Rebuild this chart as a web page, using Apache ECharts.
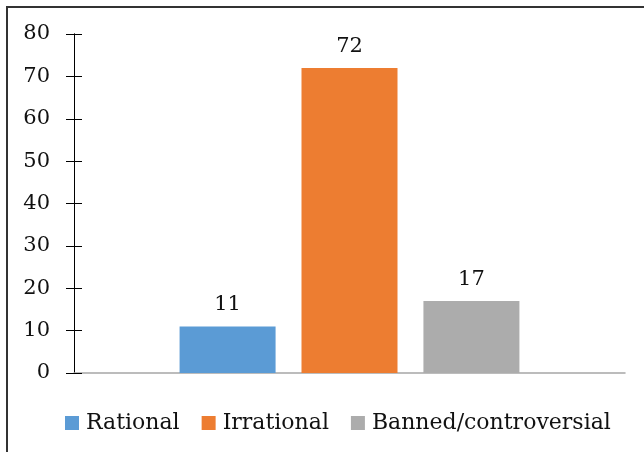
<!DOCTYPE html>
<html>
<head>
<meta charset="utf-8">
<script src="https://cdn.jsdelivr.net/npm/echarts@6/dist/echarts.min.js"></script>
<style>
  html, body { margin: 0; padding: 0; background: #fff; }
  #main { width: 644px; height: 452px; }
</style>
</head>
<body>
<div id="main"></div>
<script>
// data
var seriesNames = ["Rational", "Irrational", "Banned/controversial"];
var seriesValues = [11, 72, 17];
var seriesColors = ["#5b9bd5", "#ed7d31", "#acacac"];
var categories = [""];

var font = "DejaVu Serif";

var series = seriesNames.map(function(name, i) {
  return {
    name: name,
    type: "bar",
    barWidth: 96,
    barGap: "27%",
    yAxisIndex: 0,
    itemStyle: { color: seriesColors[i] },
    label: {
      show: true,
      position: "top",
      distance: 11,
      color: "#111",
      fontFamily: font,
      fontSize: 21
    },
    data: [seriesValues[i]]
  };
});

var myChart = echarts.init(document.getElementById("main"));
var option = {
  animation: false,
  graphic: [
    {
      type: "rect",
      shape: { x: 7, y: 7, width: 700, height: 500 },
      style: { fill: "none", stroke: "#333", lineWidth: 2 }
    }
  ],
  legend: {
    data: seriesNames,
    bottom: 13,
    left: 60,
    itemWidth: 14,
    itemHeight: 14,
    itemGap: 22,
    icon: "rect",
    textStyle: { color: "#111", fontFamily: font, fontSize: 22, padding: [0, 0, 0, 2] }
  },
  grid: {
    left: 74,
    right: 19,
    top: 34,
    bottom: 79
  },
  xAxis: {
    type: "category",
    data: categories,
    axisLine: { lineStyle: { color: "#a6a6a6", width: 1.5 } },
    axisTick: { show: false },
    axisLabel: { show: false }
  },
  yAxis: [
    {
      type: "value",
      min: 0,
      max: 80,
      interval: 10,
      axisLine: { show: true, lineStyle: { color: "#000", width: 1 } },
      axisTick: { show: true, length: 8, lineStyle: { color: "#000" } },
      axisLabel: { color: "#111", fontFamily: font, fontSize: 21, margin: 24 },
      splitLine: { show: false }
    },
    {
      type: "value",
      position: "left",
      min: 0,
      max: 80,
      interval: 10,
      axisLine: { show: true, lineStyle: { color: "#000", width: 1 } },
      axisTick: { show: true, inside: true, length: 8, lineStyle: { color: "#000" } },
      axisLabel: { show: false },
      splitLine: { show: false }
    }
  ],
  series: series
};
myChart.setOption(option);
</script>
</body>
</html>
